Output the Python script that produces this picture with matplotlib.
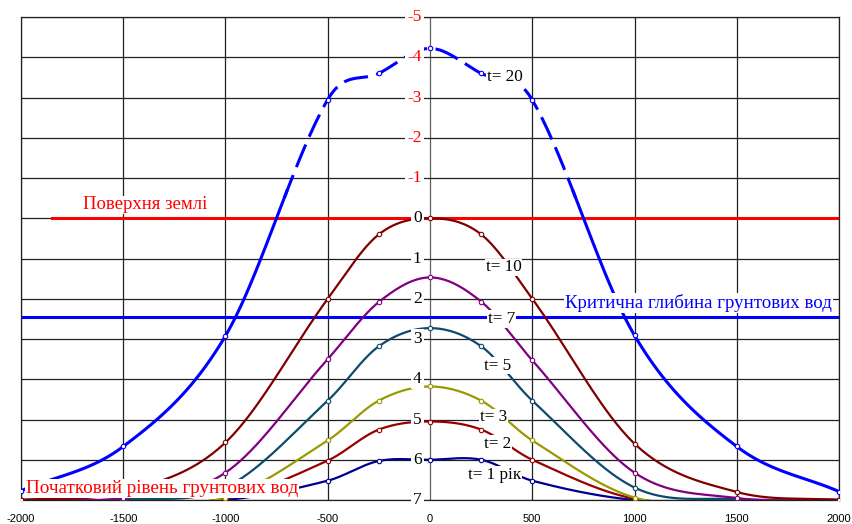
import numpy as np
import matplotlib
matplotlib.use("Agg")
import matplotlib.pyplot as plt

plt.rcParams["font.family"] = ["Liberation Serif", "DejaVu Serif"]

# chart data
x = [-2000, -1500, -1000, -500, -250, 0, 250, 500, 1000, 1500, 2000]
t20 = [6.77, 5.67, 2.92, -2.95, -3.6, -4.22, -3.6, -2.94, 2.91, 5.67, 6.79]
t10 = [7.0, 6.8, 5.57, 2.0, 0.4, 0.0, 0.4, 2.0, 5.6, 6.8, 7.0]
t7 = [7.0, 6.95, 6.32, 3.5, 2.08, 1.47, 2.07, 3.53, 6.32, 6.95, 7.0]
t5 = [7.0, 6.98, 6.69, 4.53, 3.18, 2.73, 3.18, 4.53, 6.69, 6.98, 7.0]
t3 = [7.0, 7.0, 6.94, 5.52, 4.53, 4.18, 4.53, 5.52, 6.94, 7.0, 7.0]
t2 = [7.0, 7.0, 6.97, 6.02, 5.25, 5.05, 5.25, 6.0, 6.97, 7.0, 7.0]
t1 = [7.0, 7.0, 7.0, 6.52, 6.03, 6.0, 6.0, 6.52, 7.0, 7.0, 7.0]

surface_x = [-1850, 2000]
surface_y = [0, 0]
critical_x = [-2000, 2000]
critical_y = [2.46, 2.46]

xticks = [-2000, -1500, -1000, -500, 0, 500, 1000, 1500, 2000]
yticks = list(range(-5, 8))


def smooth(xs, ys, n=40):
    # cubic Hermite through the points, slopes from the neighbours
    xs = np.asarray(xs, float)
    ys = np.asarray(ys, float)
    m = np.empty_like(ys)
    m[1:-1] = (ys[2:] - ys[:-2]) / (xs[2:] - xs[:-2])
    m[0] = (ys[1] - ys[0]) / (xs[1] - xs[0])
    m[-1] = (ys[-1] - ys[-2]) / (xs[-1] - xs[-2])
    px, py = [], []
    t = np.linspace(0, 1, n, endpoint=False)
    for i in range(len(xs) - 1):
        h = xs[i + 1] - xs[i]
        h00 = 2 * t ** 3 - 3 * t ** 2 + 1
        h10 = t ** 3 - 2 * t ** 2 + t
        h01 = -2 * t ** 3 + 3 * t ** 2
        h11 = t ** 3 - t ** 2
        px.append(xs[i] + h * t)
        py.append(h00 * ys[i] + h10 * h * m[i] + h01 * ys[i + 1] + h11 * h * m[i + 1])
    px.append(xs[-1:])
    py.append(ys[-1:])
    return np.concatenate(px), np.concatenate(py)


fig = plt.figure(figsize=(8.52, 5.24), dpi=100)
ax = fig.add_axes([21 / 852, 24 / 524, 818 / 852, 483 / 524])
ax.set_xlim(-2000, 2000)
ax.set_ylim(7, -5)

for v in xticks:
    ax.axvline(v, color="#202020" if v != 0 else "#606060", lw=0.9, zorder=1)
for v in yticks:
    ax.axhline(v, color="#202020", lw=0.9, zorder=1)
for s in ax.spines.values():
    s.set_color("#202020")
    s.set_linewidth(0.9)

ax.plot(surface_x, surface_y, color="#ff0000", lw=2.2, zorder=2)
ax.plot(critical_x, critical_y, color="#0000ff", lw=2.2, zorder=2)

series = [
    (t1, "#000090"),
    (t2, "#990000"),
    (t3, "#999900"),
    (t5, "#0d4a6e"),
    (t7, "#800080"),
    (t10, "#800000"),
]
for ys, col in series:
    sx, sy = smooth(x, ys)
    ax.plot(sx, sy, color=col, lw=1.6, zorder=3)
    ax.plot(x, ys, ls="none", marker="o", ms=3.2, mfc="white", mec=col,
            mew=0.8, zorder=4)

# t = 20, dashed above the surface
sx, sy = smooth(x, t20)
mid = np.abs(sx) < 720
left = sx <= -700
right = sx >= 700
ax.plot(sx[left], sy[left], color="#0000ff", lw=2.2, zorder=3)
ax.plot(sx[right], sy[right], color="#0000ff", lw=2.2, zorder=3)
ax.plot(sx[mid], sy[mid], color="#0000ff", lw=2.2, ls=(0, (8, 2.8)), zorder=3)
ax.plot(x, t20, ls="none", marker="o", ms=3.2, mfc="white", mec="#0000ff",
        mew=0.8, zorder=4)

ax.set_xticks(xticks)
ax.set_xticklabels([str(v) for v in xticks], family="Liberation Sans", fontsize=8)
ax.tick_params(axis="x", length=0, pad=10)
ax.set_yticks([])

box = dict(facecolor="white", edgecolor="none", pad=0.6)
for v in yticks:
    ax.annotate(str(v), (0, v), xytext=(-6, 0), textcoords="offset points",
                ha="right", va="center", fontsize=12.5,
                color="#ff0000" if v < 0 else "black",
                bbox=dict(facecolor="white", edgecolor="none", pad=1.5), zorder=5)

labels = [
    ("t= 20", 280, -3.5),
    ("t= 10", 272, 1.22),
    ("t= 7", 282, 2.5),
    ("t= 5", 265, 3.66),
    ("t= 3", 245, 4.95),
    ("t= 2", 265, 5.6),
    ("t= 1 рік", 185, 6.37),
]
for txt, lx, ly in labels:
    ax.text(lx, ly, txt, fontsize=12.3, ha="left", va="center", bbox=box, zorder=5)

ax.text(-1697, -0.33, "Поверхня землі", color="#ff0000", fontsize=13.5,
        ha="left", va="center", bbox=box, zorder=5)
ax.text(660, 2.1, "Критична глибина грунтових вод", color="#0000ff",
        fontsize=13.6, ha="left", va="center", bbox=box, zorder=5)
ax.text(-1975, 6.72, "Початковий рівень грунтових вод", color="#ff0000",
        fontsize=13.8, ha="left", va="center", bbox=box, zorder=5)

fig.savefig("out.png", dpi=100)
